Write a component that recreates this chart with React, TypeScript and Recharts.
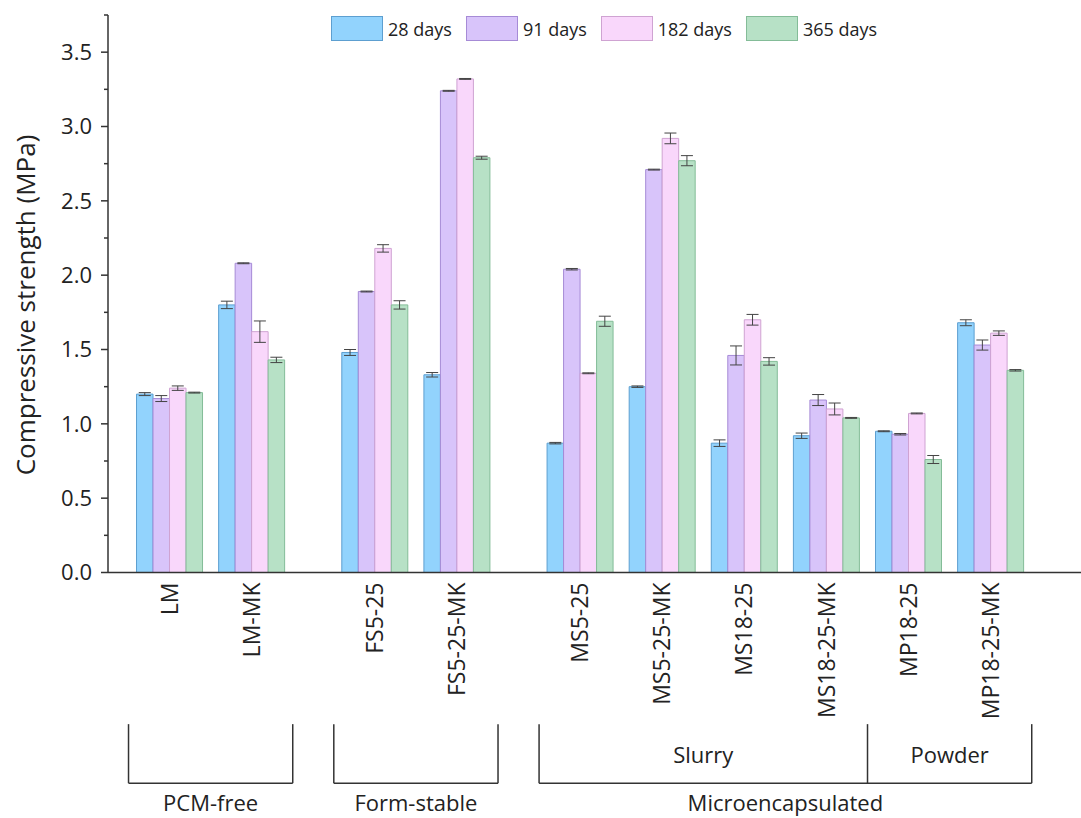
import React from "react";
import {
  BarChart,
  Bar,
  XAxis,
  YAxis,
  ErrorBar,
  Legend,
  ReferenceLine,
} from "recharts";

// samples, with their position on the x axis (gaps between mortar families)
const samples = [
  "LM",
  "LM-MK",
  "FS5-25",
  "FS5-25-MK",
  "MS5-25",
  "MS5-25-MK",
  "MS18-25",
  "MS18-25-MK",
  "MP18-25",
  "MP18-25-MK",
];
const samplePos = [1, 2, 3.5, 4.5, 6, 7, 8, 9, 10, 11];

// compressive strength (MPa)
const d28 = [1.2, 1.8, 1.48, 1.33, 0.87, 1.25, 0.87, 0.92, 0.95, 1.68];
const d91 = [1.17, 2.08, 1.89, 3.24, 2.04, 2.71, 1.46, 1.16, 0.93, 1.53];
const d182 = [1.24, 1.62, 2.18, 3.32, 1.34, 2.92, 1.7, 1.1, 1.07, 1.61];
const d365 = [1.21, 1.43, 1.8, 2.79, 1.69, 2.77, 1.42, 1.04, 0.76, 1.36];

// standard deviations
const e28 = [0.01, 0.025, 0.02, 0.015, 0.005, 0.005, 0.022, 0.018, 0.003, 0.02];
const e91 = [0.02, 0.003, 0.003, 0.003, 0.005, 0.003, 0.064, 0.037, 0.005, 0.034];
const e182 = [0.015, 0.072, 0.025, 0.003, 0.003, 0.036, 0.036, 0.04, 0.003, 0.015];
const e365 = [0.003, 0.018, 0.028, 0.01, 0.034, 0.034, 0.025, 0.003, 0.027, 0.005];

const majorTicks = [0, 0.5, 1, 1.5, 2, 2.5, 3, 3.5];
const minorTicks = [0.25, 0.75, 1.25, 1.75, 2.25, 2.75, 3.25, 3.75];

// brackets under the axis (spans in x-axis units)
const groups = [
  { name: "PCM-free", from: 0.5, to: 2.5 },
  { name: "Form-stable", from: 3, to: 5 },
  { name: "Microencapsulated", from: 5.5, to: 11.5 },
];
const subGroups = [
  { name: "Slurry", from: 5.5, to: 9.5 },
  { name: "Powder", from: 9.5, to: 11.5 },
];

const series = [
  { key: "d28", err: "e28", name: "28 days", fill: "#92d3fd", stroke: "#5d9fd0" },
  { key: "d91", err: "e91", name: "91 days", fill: "#d8c4fa", stroke: "#a68bd6" },
  { key: "d182", err: "e182", name: "182 days", fill: "#f9d7fb", stroke: "#cfa3d2" },
  { key: "d365", err: "e365", name: "365 days", fill: "#b7e1c6", stroke: "#84bc98" },
];

const data = samples.map((s, i) => ({
  name: s,
  pos: samplePos[i],
  d28: d28[i],
  d91: d91[i],
  d182: d182[i],
  d365: d365[i],
  e28: e28[i],
  e91: e91[i],
  e182: e182[i],
  e365: e365[i],
}));

const FONT = "'Open Sans', sans-serif";
const INK = "#222";
const AXIS = "#333";

const XTick = ({ x, y, payload }: any) => {
  const label = samples[samplePos.indexOf(payload.value)];
  return (
    <text
      x={x}
      y={y}
      dy="0.35em"
      transform={`rotate(-90, ${x}, ${y})`}
      textAnchor="end"
      fontSize={23}
      fontFamily={FONT}
      fill={INK}
    >
      {label}
    </text>
  );
};

const YTick = ({ x, y, payload }: any) => {
  const v = payload.value;
  const major = majorTicks.includes(v);
  const axisX = x + 9 + 7;
  return (
    <g>
      <line x1={axisX - (major ? 7 : 4)} x2={axisX} y1={y} y2={y} stroke={AXIS} strokeWidth={1.5} />
      {major && (
        <text x={x} y={y} dy="0.35em" textAnchor="end" fontSize={22} fontFamily={FONT} fill={INK}>
          {v.toFixed(1)}
        </text>
      )}
    </g>
  );
};

const YLabel = () => (
  <text
    x={25}
    y={305}
    transform="rotate(-90, 25, 305)"
    textAnchor="middle"
    dominantBaseline="central"
    fontSize={26}
    fontFamily={FONT}
    fill={INK}
  >
    Compressive strength (MPa)
  </text>
);

const LegendContent = () => (
  <div style={{ display: "flex", alignItems: "center", fontFamily: FONT, fontSize: 18, color: INK }}>
    {series.map((s) => (
      <div key={s.key} style={{ display: "flex", alignItems: "center", marginRight: 14 }}>
        <div
          style={{
            width: 50,
            height: 23,
            background: s.fill,
            border: `1px solid ${s.stroke}`,
            marginRight: 5,
          }}
        />
        <span>{s.name}</span>
      </div>
    ))}
  </div>
);

const BR_TOP = -1.02;
const BR_BOTTOM = -1.417;

export default function App() {
  return (
    <div style={{ position: "absolute", left: 0, top: 0, background: "#fff" }}>
      <BarChart
        width={1081}
        height={818}
        data={data}
        margin={{ top: 15, right: 0, bottom: 0, left: 0 }}
        barGap={0}
      >
        <XAxis
          type="number"
          dataKey="pos"
          domain={[0.25, 12.1]}
          ticks={samplePos}
          interval={0}
          allowDataOverflow
          height={245.5}
          tickLine={false}
          tickSize={0}
          tickMargin={10}
          tick={<XTick />}
          axisLine={{ stroke: AXIS, strokeWidth: 1.5 }}
        />
        <YAxis
          type="number"
          domain={[0, 3.75]}
          ticks={[...majorTicks, ...minorTicks].sort((a, b) => a - b)}
          interval={0}
          allowDataOverflow
          width={108}
          tickLine={false}
          tickSize={7}
          tickMargin={9}
          tick={<YTick />}
          axisLine={{ stroke: AXIS, strokeWidth: 1.5 }}
          label={{ content: () => <YLabel /> }}
        />
        <Legend
          verticalAlign="middle"
          layout="horizontal"
          wrapperStyle={{ top: 16, left: 331, width: "auto" }}
          content={() => <LegendContent />}
        />
        {series.map((s) => (
          <Bar
            key={s.key}
            dataKey={s.key}
            name={s.name}
            fill={s.fill}
            stroke={s.stroke}
            strokeWidth={1}
            barSize={16.5}
            isAnimationActive={false}
          >
            <ErrorBar dataKey={s.err} width={6} stroke="#444" strokeWidth={1} direction="y" />
          </Bar>
        ))}

        {groups.map((g) => (
          <ReferenceLine
            key={g.name + "-l"}
            segment={[{ x: g.from, y: BR_TOP }, { x: g.from, y: BR_BOTTOM }]}
            stroke={AXIS}
            strokeWidth={1.5}
            ifOverflow="visible"
          />
        ))}
        {groups.map((g) => (
          <ReferenceLine
            key={g.name + "-r"}
            segment={[{ x: g.to, y: BR_TOP }, { x: g.to, y: BR_BOTTOM }]}
            stroke={AXIS}
            strokeWidth={1.5}
            ifOverflow="visible"
          />
        ))}
        {groups.map((g) => (
          <ReferenceLine
            key={g.name + "-b"}
            segment={[{ x: g.from, y: BR_BOTTOM }, { x: g.to, y: BR_BOTTOM }]}
            stroke={AXIS}
            strokeWidth={1.5}
            ifOverflow="visible"
            label={{
              value: g.name,
              position: "bottom",
              offset: 12,
              fontSize: 22,
              fontFamily: FONT,
              fill: INK,
            }}
          />
        ))}
        <ReferenceLine
          segment={[{ x: subGroups[1].from, y: BR_TOP }, { x: subGroups[1].from, y: BR_BOTTOM }]}
          stroke={AXIS}
          strokeWidth={1.5}
          ifOverflow="visible"
        />
        {subGroups.map((g) => (
          <ReferenceLine
            key={g.name}
            segment={[{ x: g.from, y: BR_BOTTOM }, { x: g.to, y: BR_BOTTOM }]}
            stroke="none"
            ifOverflow="visible"
            label={{
              value: g.name,
              position: "top",
              offset: 20,
              fontSize: 22,
              fontFamily: FONT,
              fill: INK,
            }}
          />
        ))}
      </BarChart>
    </div>
  );
}
